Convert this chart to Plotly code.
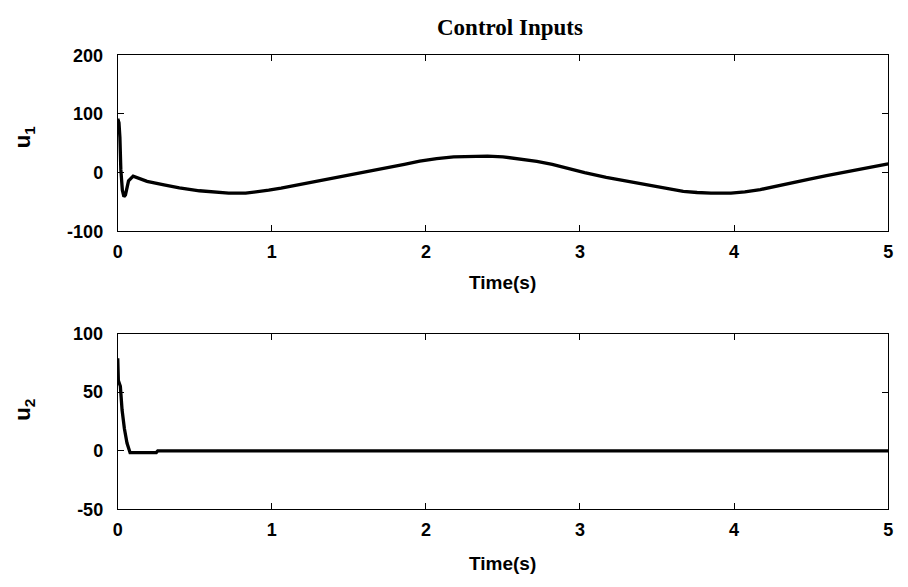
import plotly.graph_objects as go

# Control input u1 (time in s, value)
t_u1 = [0, 0.008, 0.014, 0.02, 0.03, 0.04, 0.05, 0.07, 0.1, 0.15, 0.19, 0.3, 0.4, 0.53,
        0.62, 0.72, 0.83, 0.9, 0.98, 1.06, 1.15, 1.26, 1.37, 1.45, 1.52, 1.6, 1.69,
        1.78, 1.86, 1.96, 2.07, 2.18, 2.3, 2.4, 2.5, 2.63, 2.72, 2.82, 2.92, 3.03,
        3.17, 3.31, 3.42, 3.53, 3.6, 3.67, 3.76, 3.85, 3.98, 4.07, 4.17, 4.27, 4.38,
        4.49, 4.6, 4.7, 4.81, 4.9, 5.0]
u1 = [92, 85, 60, 5, -30, -41, -38, -14, -6, -11, -15, -21, -26, -31,
      -33.5, -35, -35, -33, -30, -26.5, -22, -16.5, -11, -7.5, -4, 0.5, 5,
      9.5, 14, 19.5, 24, 27, 28, 28, 27, 23, 19, 14, 7, 0,
      -8, -15, -20.5, -25, -29, -32, -34, -35, -35, -33, -29, -23, -17,
      -11, -5, 0, 5, 10, 15]

# Control input u2
t_u2 = [0, 0.004, 0.017, 0.028, 0.043, 0.06, 0.08, 0.25, 0.26, 5.0]
u2 = [79, 60, 55, 35, 19, 6.6, -1.6, -1.6, 0, 0]

x_ticks = [0, 1, 2, 3, 4, 5]
y1_ticks = [-100, 0, 100, 200]
y2_ticks = [-50, 0, 50, 100]

tickfont = dict(family="Liberation Sans", size=18, color="black", weight="bold")

fig = go.Figure()
fig.add_trace(go.Scatter(x=t_u1, y=u1, mode="lines", line=dict(color="black", width=3.3),
                         xaxis="x", yaxis="y", showlegend=False))
fig.add_trace(go.Scatter(x=t_u2, y=u2, mode="lines", line=dict(color="black", width=3.3),
                         xaxis="x2", yaxis="y2", showlegend=False))

common_axis = dict(showgrid=False, zeroline=False, showline=True, linecolor="black",
                   linewidth=1, mirror="ticks", ticks="inside", ticklen=6,
                   tickcolor="black", tickfont=tickfont)

xd = [114 / 908, 893 / 908]
fig.update_layout(
    width=908, height=587,
    margin=dict(l=0, r=0, t=0, b=0),
    paper_bgcolor="white", plot_bgcolor="white",
    xaxis=dict(domain=xd, range=[0, 5], tickvals=x_ticks, anchor="y",
               ticklabelstandoff=4, **common_axis),
    yaxis=dict(domain=[(587 - 229) / 587, (587 - 47) / 587], range=[-100, 200],
               tickvals=y1_ticks, ticktext=[str(v) for v in y1_ticks], anchor="x",
               ticklabelstandoff=10, **common_axis),
    xaxis2=dict(domain=xd, range=[0, 5], tickvals=x_ticks, anchor="y2",
                ticklabelstandoff=4, **common_axis),
    yaxis2=dict(domain=[(587 - 517) / 587, (587 - 335) / 587], range=[-50, 100],
                tickvals=y2_ticks, ticktext=[str(v) for v in y2_ticks], anchor="x2",
                ticklabelstandoff=10, **common_axis),
)

labfont = dict(family="Liberation Sans", size=19, color="black", weight="bold")
ufont = dict(family="Liberation Sans", size=22, color="black", weight="bold")
ann = [
    dict(text="Control Inputs", x=511 / 908, y=1 - 18 / 587, xanchor="center", yanchor="middle",
         font=dict(family="Liberation Serif", size=23, color="black", weight="bold")),
    dict(text="Time(s)", x=503 / 908, y=1 - 282 / 587, xanchor="center", yanchor="middle", font=labfont),
    dict(text="Time(s)", x=503 / 908, y=1 - 573 / 587, xanchor="center", yanchor="middle", font=labfont),
    dict(text="u<sub>1</sub>", x=19 / 908, y=1 - 132 / 587, xanchor="center", yanchor="middle",
         textangle=-90, font=ufont),
    dict(text="u<sub>2</sub>", x=19 / 908, y=1 - 414 / 587, xanchor="center", yanchor="middle",
         textangle=-90, font=ufont),
]
for a in ann:
    a.update(xref="paper", yref="paper", showarrow=False)
fig.update_layout(annotations=ann)

fig.write_html("out.html")
